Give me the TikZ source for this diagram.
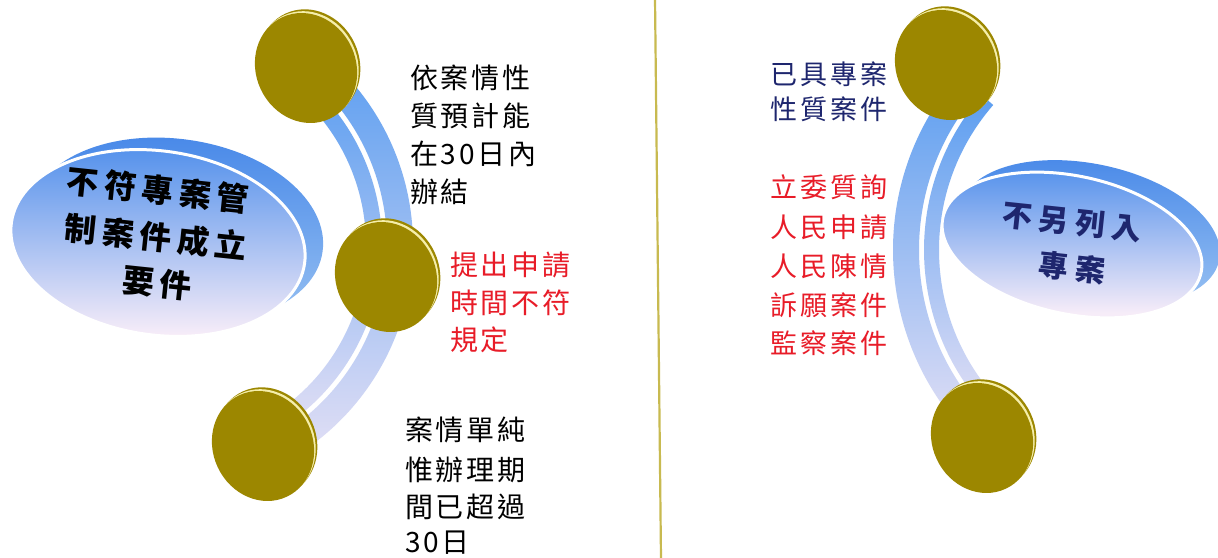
\documentclass[tikz,border=0pt]{standalone}
\usepackage{fontspec}
\newfontfamily\cjkA[LetterSpace=10]{Noto Sans CJK TC}
\newfontfamily\cjkB[LetterSpace=11]{Noto Sans CJK TC}
\newfontfamily\cjkL[LetterSpace=18]{Noto Sans CJK TC}
\newfontfamily\cjkR[LetterSpace=22]{Noto Sans CJK TC}
\usetikzlibrary{shapes.geometric,calc}
\definecolor{coin}{RGB}{156,135,0}
\definecolor{rim}{RGB}{245,238,170}
\definecolor{bandtop}{RGB}{92,158,240}
\definecolor{bandbot}{RGB}{230,225,245}
\definecolor{elltop}{RGB}{78,142,235}
\definecolor{ellmid}{RGB}{140,190,246}
\definecolor{ellbot}{RGB}{246,236,248}
\definecolor{backtop}{RGB}{70,135,232}
\definecolor{backbot}{RGB}{150,192,242}
\definecolor{tred}{RGB}{232,28,40}
\definecolor{navy}{RGB}{30,38,110}
\definecolor{sepc}{RGB}{200,186,80}
\begin{document}
\begin{tikzpicture}[x=1pt,y=-1pt,
  coinface/.style={ellipse, minimum width=100pt, minimum height=112pt, inner sep=0pt, rotate=25, fill=coin},
  coinrim/.style={coinface, fill=rim},
  coinback/.style={coinface, fill=coin},
  bandshade/.style={top color=bandtop, bottom color=bandbot},
  bigback/.style={ellipse, inner sep=0pt, top color=backtop, bottom color=backbot},
  bigfront/.style={ellipse, inner sep=0pt, draw=white, line width=3pt, top color=elltop, middle color=ellmid, bottom color=ellbot},
  txtA/.style={inner sep=0pt, anchor=west, font=\cjkA\fontsize{28}{30}\selectfont},
  txtB/.style={inner sep=0pt, anchor=west, font=\cjkB\fontsize{27}{30}\selectfont},
  txtL/.style={inner sep=0pt, anchor=center, rotate=-6, font=\cjkL\bfseries\fontsize{32}{34}\selectfont},
  txtR/.style={inner sep=0pt, anchor=center, rotate=-6, text=navy, font=\cjkR\bfseries\fontsize{30}{32}\selectfont},
  sepline/.style={draw=sepc, line width=2.2pt}
]
\useasboundingbox (0,0) rectangle (1218,557);
\clip (0,0) rectangle (1218,557);
\fill[white] (0,0) rectangle (1218,557);

% separator
\coordinate (s1) at (655,-2);
\coordinate (s2) at (661,559);
\draw[sepline] (s1) -- (s2);

% left big ellipse
\node[bigback, minimum width=296pt, minimum height=184pt, rotate=-8] (LEb) at (176,231) {};
\node[bigfront, minimum width=296pt, minimum height=184pt, rotate=-8] (LE) at (158,243) {};
\node[txtL] (l1) at (158,190) {不符專案管};
\node[txtL] (l2) at (156,237) {制案件成立};
\node[txtL] (l3) at (157,283) {要件};

% right big ellipse
\node[bigback, minimum width=264pt, minimum height=138pt, rotate=-12] (REb) at (1090,233) {};
\node[bigfront, minimum width=264pt, minimum height=138pt, rotate=-12] (RE) at (1072,245) {};
\node[txtR] (r1) at (1072,222) {不另列入};
\node[txtR] (r2) at (1072,268) {專案};

% left band
\coordinate (CL) at (165,245);
\shade[bandshade] ($(CL)+(-50:248)$) arc[start angle=-50,end angle=64,radius=248] -- ++(64:-26) arc[start angle=64,end angle=-50,radius=222] -- cycle;
\shade[bandshade] ($(CL)+(-50:217)$) arc[start angle=-50,end angle=64,radius=217] -- ++(64:-16) arc[start angle=64,end angle=-50,radius=201] -- cycle;

% right band
\coordinate (CR) at (1160,250);
\shade[bandshade] ($(CR)+(133:267)$) arc[start angle=133,end angle=221,radius=267] -- ++(221:-26) arc[start angle=221,end angle=133,radius=241] -- cycle;
\shade[bandshade] ($(CR)+(133:236)$) arc[start angle=133,end angle=221,radius=236] -- ++(221:-15) arc[start angle=221,end angle=133,radius=221] -- cycle;

% coins
\foreach \n/\x/\y in {ca/306/68, cb/386/277, cc/263/446, cd/946/65, ce/982/438}{
  \node[coinback, xshift=4.5pt, yshift=2pt] (\n b) at (\x,\y) {};
  \node[coinrim, xshift=2.2pt, yshift=1pt] (\n r) at (\x,\y) {};
  \node[coinface] (\n) at (\x,\y) {};
}

% left texts
\node[txtA] (a1) at (410,78) {依案情性};
\node[txtA] (a2) at (410,116) {質預計能};
\node[txtA] (a3) at (410,154) {在30日內};
\node[txtA] (a4) at (410,192) {辦結};
\node[txtA, text=tred] (b1) at (450,265) {提出申請};
\node[txtA, text=tred] (b2) at (450,303) {時間不符};
\node[txtA, text=tred] (b3) at (450,340) {規定};
\node[txtA] (c1) at (405,430) {案情單純};
\node[txtA] (c2) at (405,470) {惟辦理期};
\node[txtA] (c3) at (405,507) {間已超過};
\node[txtA] (c4) at (405,543) {30日};

% right texts
\node[txtB, text=navy] (d1) at (770,74) {已具專案};
\node[txtB, text=navy] (d2) at (770,109) {性質案件};
\node[txtB, text=tred] (e1) at (770,187) {立委質詢};
\node[txtB, text=tred] (e2) at (770,227) {人民申請};
\node[txtB, text=tred] (e3) at (770,266) {人民陳情};
\node[txtB, text=tred] (e4) at (770,305) {訴願案件};
\node[txtB, text=tred] (e5) at (770,343) {監察案件};
\end{tikzpicture}
\end{document}
